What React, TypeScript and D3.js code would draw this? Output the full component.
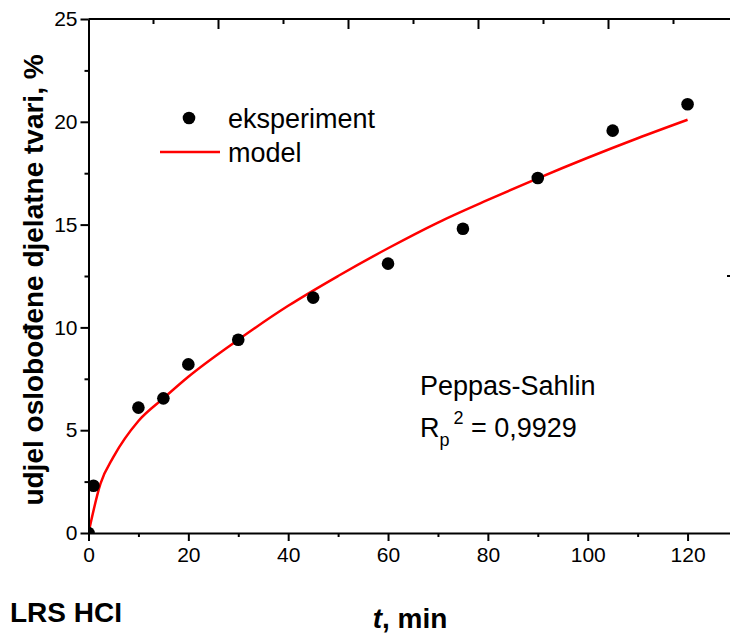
import React, { useEffect, useRef } from "react";
import * as d3 from "d3";

// measured release (t in min, %)
const expT = [0, 1, 10, 15, 20, 30, 45, 60, 75, 90, 105, 120];
const expY = [0, 2.3, 6.1, 6.55, 8.2, 9.4, 11.45, 13.1, 14.8, 17.27, 19.57, 20.85];

// model curve
const modelT = [0, 2.4, 5, 10, 15, 20, 30, 40, 50, 60, 70, 80, 90, 100, 110, 120];
const modelY = [0, 2.4, 3.7, 5.45, 6.55, 7.6, 9.4, 11.05, 12.5, 13.85, 15.1, 16.2, 17.25, 18.25, 19.2, 20.1];

const xMajor = [0, 20, 40, 60, 80, 100, 120];
const xMinor = [10, 30, 50, 70, 90, 110];
const yMajor = [0, 5, 10, 15, 20, 25];
const yMinor = [2.5, 7.5, 12.5, 17.5, 22.5];
const topMajor = [2, 4, 6, 8];
const topMinor = [1, 3, 5, 7, 9];
const rightTicks = [12.5];

const FONT = "'Liberation Sans', Arial, sans-serif";

const App: React.FC = () => {
  const svgRef = useRef<SVGSVGElement>(null);

  useEffect(() => {
    if (!svgRef.current) return;
    const svg = d3.select(svgRef.current);
    svg.selectAll("*").remove();

    const x = d3.scaleLinear().domain([0, 128.7]).range([88.5, 731]);
    const y = d3.scaleLinear().domain([0, 25]).range([533, 19]);
    const xTop = d3.scaleLinear().domain([0, 10]).range([88.5, 738.5]);

    svg.append("defs").append("clipPath").attr("id", "plotClip")
      .append("rect")
      .attr("x", x(0)).attr("y", y(25))
      .attr("width", 731 - x(0)).attr("height", y(0) - y(25));

    const plot = svg.append("g").attr("clip-path", "url(#plotClip)");

    // model line
    const modelData = modelT.map((t, i) => [t, modelY[i]] as [number, number]);
    plot.append("path")
      .datum(modelData)
      .attr("fill", "none")
      .attr("stroke", "#ff0000")
      .attr("stroke-width", 2.5)
      .attr(
        "d",
        d3.line<[number, number]>()
          .x((d) => x(d[0]))
          .y((d) => y(d[1]))
          .curve(d3.curveMonotoneX)
      );

    // experimental points
    plot.selectAll(".pt")
      .data(expT.map((t, i) => [t, expY[i]]))
      .join("circle")
      .attr("cx", (d) => x(d[0]))
      .attr("cy", (d) => y(d[1]))
      .attr("r", 6.3)
      .attr("fill", "#000");

    // bottom axis
    const bottom = svg.append("g").attr("transform", `translate(0,${y(0)})`);
    bottom.call(
      d3.axisBottom(x).tickValues(xMajor).tickSize(8).tickPadding(6).tickSizeOuter(0)
    );
    bottom.append("g").call(
      d3.axisBottom(x).tickValues(xMinor).tickSize(4).tickFormat(() => "").tickSizeOuter(0)
    ).select(".domain").remove();

    // left axis
    const left = svg.append("g").attr("transform", `translate(${x(0)},0)`);
    left.call(
      d3.axisLeft(y).tickValues(yMajor).tickSize(8).tickPadding(3).tickSizeOuter(0)
    );
    left.append("g").call(
      d3.axisLeft(y).tickValues(yMinor).tickSize(4).tickFormat(() => "").tickSizeOuter(0)
    ).select(".domain").remove();

    // top axis, ticks inward
    const top = svg.append("g").attr("transform", `translate(0,${y(25)})`);
    top.append("line")
      .attr("x1", x(0)).attr("x2", 731)
      .attr("stroke", "#000").attr("stroke-width", 2);
    top.selectAll(".tmaj").data(topMajor).join("line")
      .attr("x1", (d) => xTop(d)).attr("x2", (d) => xTop(d))
      .attr("y1", 0).attr("y2", 10)
      .attr("stroke", "#000").attr("stroke-width", 2);
    top.selectAll(".tmin").data(topMinor).join("line")
      .attr("class", "tmin")
      .attr("x1", (d) => xTop(d)).attr("x2", (d) => xTop(d))
      .attr("y1", 0).attr("y2", 5)
      .attr("stroke", "#000").attr("stroke-width", 2);

    // right axis sits just past the frame; only its tick shows
    svg.selectAll(".rt").data(rightTicks).join("line")
      .attr("x1", 727).attr("x2", 731)
      .attr("y1", (d) => y(d)).attr("y2", (d) => y(d))
      .attr("stroke", "#000").attr("stroke-width", 2);

    svg.selectAll(".domain").attr("stroke-width", 2);
    svg.selectAll(".tick line").attr("stroke-width", 2);
    svg.selectAll(".tick text")
      .attr("font-family", FONT)
      .attr("font-size", 21)
      .attr("fill", "#000");

    // legend
    svg.append("circle").attr("cx", 189).attr("cy", 118).attr("r", 6.3).attr("fill", "#000");
    svg.append("line")
      .attr("x1", 160).attr("x2", 220).attr("y1", 152).attr("y2", 152)
      .attr("stroke", "#ff0000").attr("stroke-width", 2.5);
    const legText = svg.append("g").attr("font-family", FONT).attr("font-size", 27).attr("fill", "#000");
    legText.append("text").attr("x", 228).attr("y", 128).text("eksperiment");
    legText.append("text").attr("x", 228).attr("y", 162).text("model");

    // annotation
    const ann = svg.append("g").attr("font-family", FONT).attr("font-size", 27).attr("fill", "#000");
    ann.append("text").attr("x", 420).attr("y", 395).text("Peppas-Sahlin");
    const r2 = ann.append("text").attr("x", 420).attr("y", 437);
    r2.append("tspan").text("R");
    r2.append("tspan").attr("font-size", 18).attr("dy", 9).text("p");
    r2.append("tspan").attr("font-size", 18).attr("dy", -22).attr("dx", 4).text("2");
    r2.append("tspan").attr("dy", 13).text(" = 0,9929");

    // axis titles
    const titles = svg.append("g").attr("font-family", FONT).attr("font-weight", "bold").attr("font-size", 28).attr("fill", "#000");
    titles.append("text")
      .attr("transform", `translate(43,${(y(0) + y(25)) / 2 + 4}) rotate(-90)`)
      .attr("text-anchor", "middle")
      .text("udjel oslobođene djelatne tvari, %");
    const xt = titles.append("text").attr("x", 410).attr("y", 628).attr("text-anchor", "middle");
    xt.append("tspan").attr("font-style", "italic").text("t");
    xt.append("tspan").text(", min");
    titles.append("text").attr("x", 10).attr("y", 622).text("LRS HCI");
  }, []);

  return (
    <svg
      ref={svgRef}
      width={730}
      height={635}
      style={{ position: "absolute", left: 0, top: 0, background: "#fff" }}
    />
  );
};

export default App;
